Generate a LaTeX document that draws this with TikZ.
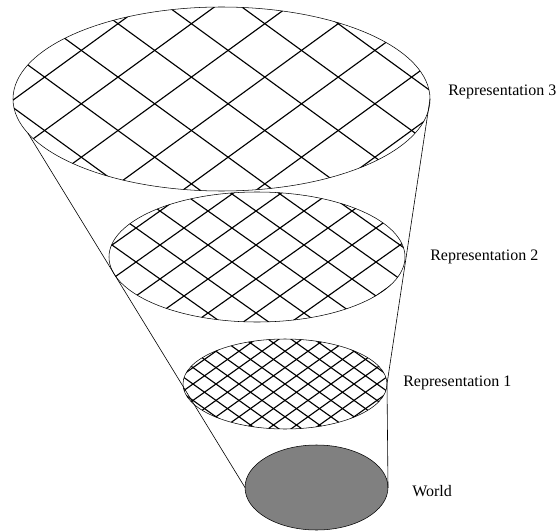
\documentclass[tikz,border=0pt]{standalone}
\usepackage{fontspec}
\setmainfont{Liberation Serif}
\usetikzlibrary{shapes.geometric,calc,positioning}
\def\PX{0.75pt}

\tikzset{
	layer/.style={draw, ellipse, inner sep=0pt, outer sep=0pt, line width=0.4pt},
	hatch/.style n args={4}{path picture={
			\foreach \k in {-12,...,12}{
				\draw[line width=0.85pt] ($(path picture bounding box.center)+(#3,#4)+(\k*2*#1,0)+(-40*#1,-40*#2)$) -- ++(80*#1,80*#2);
				\draw[line width=0.85pt] ($(path picture bounding box.center)+(#3,#4)+(\k*2*#1,0)+(-40*#1,40*#2)$) -- ++(80*#1,-80*#2);
			}}},
	caption/.style={font=\fontsize{12}{14}\selectfont, anchor=west, inner sep=0pt},
	cone/.style={line width=0.45pt}
}

\begin{document}
\begin{tikzpicture}[x=\PX,y=-\PX]
			\useasboundingbox (0,0) rectangle (560,531);
			% 
			\node[layer, hatch={36.7}{26.7}{6.6}{4.8}, minimum width=417*\PX, minimum height=184*\PX] (rthree) at (221.5,99) {};
			\node[layer, hatch={24}{17}{-1}{-12}, minimum width=296*\PX, minimum height=130*\PX] (rtwo) at (257,257) {};
			\node[layer, hatch={11.5}{8.2}{0}{0}, minimum width=204*\PX, minimum height=90*\PX] (rone) at (285,384) {};
			\node[layer, fill=black!50, minimum width=143*\PX, minimum height=85*\PX] (world) at (316.5,487.5) {};
			% 
			\node[caption] (lthree) at (448,92) {Representation 3};
			\node[caption] (ltwo) at (430,257) {Representation 2};
			\node[caption] (lone) at (403,383) {Representation 1};
			\node[caption] (lworld) at (412,491) {World};
			% 
			\draw[cone] (rthree.190.5) -- (world.west);
			\draw[cone] (rthree.east) -- (rone.east) -- (world.east);
		\end{tikzpicture}
\end{document}
